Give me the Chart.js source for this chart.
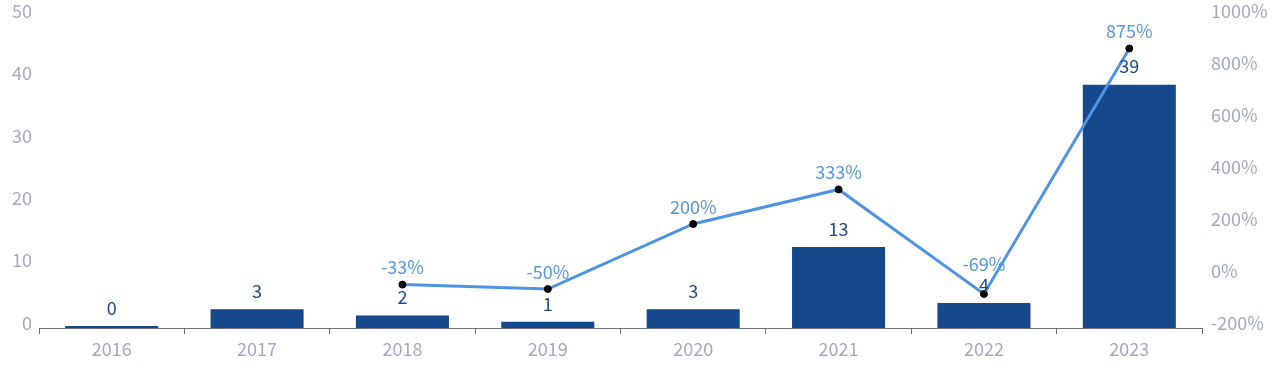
<!DOCTYPE html>
<html>
<head>
<meta charset="utf-8">
<script src="https://cdn.jsdelivr.net/npm/chart.js@4"></script>
<style>
html,body{margin:0;padding:0;background:#fff;overflow:hidden;}
canvas{display:block;}
</style>
</head>
<body>
<canvas id="c" width="1280" height="382" style="width:1280px;height:382px;"></canvas>
<script>
const categories = ['2016','2017','2018','2019','2020','2021','2022','2023'];
const countValues = [0, 3, 2, 1, 3, 13, 4, 39];
const growthValues = [null, null, -33, -50, 200, 333, -69, 875];
const countTicks = [0, 10, 20, 30, 40, 50];
const growthTicks = [-200, 0, 200, 400, 600, 800, 1000];

const FONT = '"Noto Sans CJK SC", "Noto Sans", sans-serif';
const TICK_COLOR = '#A5A8C0';

const labelPlugin = {
  id: 'valueLabels',
  afterDatasetsDraw(chart) {
    const ctx = chart.ctx;
    ctx.save();
    ctx.textAlign = 'center';
    ctx.textBaseline = 'middle';
    ctx.font = '18px ' + FONT;
    const barMeta = chart.getDatasetMeta(0);
    const barLabelY = [];
    barMeta.data.forEach((el, i) => {
      const v = countValues[i];
      if (v === null) return;
      const y = el.y - 18;
      barLabelY[i] = y;
      ctx.fillStyle = '#1B4A86';
      ctx.fillText(String(v), el.x, y);
    });
    const lineMeta = chart.getDatasetMeta(1);
    lineMeta.data.forEach((el, i) => {
      const v = growthValues[i];
      if (v === null) return;
      let y = el.y - 17;
      const by = barLabelY[i];
      if (by !== undefined && Math.abs(y - by) < 20) {
        y = by - 21;
      }
      ctx.fillStyle = '#5597E0';
      ctx.fillText(v + '%', el.x, y);
    });
    ctx.restore();
  }
};

function fixVertical(w) {
  return function (scale) {
    scale.width = w;
    scale.paddingTop = 0;
    scale.paddingBottom = 0;
  };
}

new Chart(document.getElementById('c'), {
  data: {
    labels: categories,
    datasets: [
      {
        type: 'bar',
        data: countValues,
        yAxisID: 'y',
        backgroundColor: '#16498B',
        borderWidth: 0,
        categoryPercentage: 1,
        barPercentage: 0.64,
        minBarLength: 2,
        order: 2
      },
      {
        type: 'line',
        data: growthValues,
        yAxisID: 'y1',
        borderColor: '#4F93E3',
        borderWidth: 3,
        pointRadius: 3.5,
        pointBackgroundColor: '#000',
        pointBorderColor: '#000',
        pointBorderWidth: 1,
        tension: 0,
        spanGaps: false,
        order: 1
      }
    ]
  },
  options: {
    responsive: false,
    maintainAspectRatio: false,
    animation: false,
    devicePixelRatio: 1,
    layout: { padding: { top: 16, left: 0, right: 0, bottom: 0 } },
    plugins: { legend: { display: false }, tooltip: { enabled: false } },
    scales: {
      x: {
        type: 'category',
        offset: true,
        grid: {
          offset: true,
          display: true,
          drawOnChartArea: false,
          drawTicks: true,
          tickLength: 6,
          color: '#6E7079',
          lineWidth: 1
        },
        border: { display: true, color: '#6E7079', width: 1 },
        ticks: { color: TICK_COLOR, font: { family: FONT, size: 18 }, padding: 4, maxRotation: 0 },
        afterFit(scale) { scale.height = 54; scale.paddingLeft = 0; scale.paddingRight = 0; }
      },
      y: {
        type: 'linear',
        position: 'left',
        min: 0, max: 50,
        afterBuildTicks(scale) { scale.ticks = countTicks.map(v => ({ value: v })); },
        grid: { display: false, drawTicks: false },
        border: { display: false },
        ticks: { color: TICK_COLOR, font: { family: FONT, size: 18 }, padding: 7, labelOffset: -5 },
        afterFit: fixVertical(39)
      },
      y1: {
        type: 'linear',
        position: 'right',
        min: -200, max: 1000,
        afterBuildTicks(scale) { scale.ticks = growthTicks.map(v => ({ value: v })); },
        grid: { display: false, drawTicks: false },
        border: { display: false },
        ticks: {
          color: TICK_COLOR, font: { family: FONT, size: 18 }, padding: 9, labelOffset: -5,
          callback: v => v + '%'
        },
        afterFit: fixVertical(78)
      }
    }
  },
  plugins: [labelPlugin]
});
</script>
</body>
</html>
